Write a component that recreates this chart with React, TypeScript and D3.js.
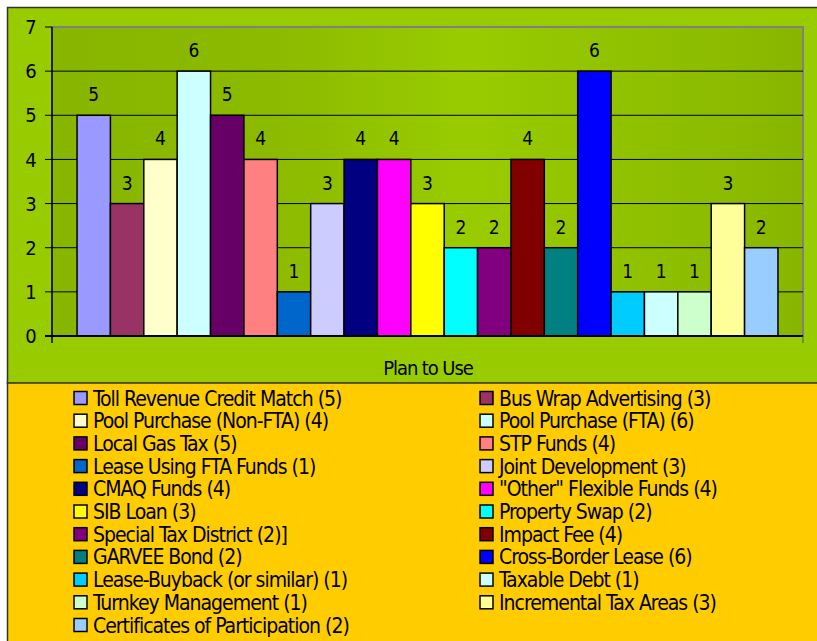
import React from 'react';
import * as d3 from 'd3';

const names = [
  'Toll Revenue Credit Match (5)', 'Bus Wrap Advertising (3)', 'Pool Purchase (Non-FTA) (4)',
  'Pool Purchase (FTA) (6)', 'Local Gas Tax (5)', 'STP Funds (4)', 'Lease Using FTA Funds (1)',
  'Joint Development (3)', 'CMAQ Funds (4)', '"Other" Flexible Funds (4)', 'SIB Loan (3)',
  'Property Swap (2)', 'Special Tax District (2)]', 'Impact Fee (4)', 'GARVEE Bond (2)',
  'Cross-Border Lease (6)', 'Lease-Buyback (or similar) (1)', 'Taxable Debt (1)',
  'Turnkey Management (1)', 'Incremental Tax Areas (3)', 'Certificates of Participation (2)',
];
const values = [5, 3, 4, 6, 5, 4, 1, 3, 4, 4, 3, 2, 2, 4, 2, 6, 1, 1, 1, 3, 2];
const colors = [
  '#9999ff', '#993366', '#ffffcc', '#ccffff', '#660066', '#ff8080', '#0066cc',
  '#ccccff', '#000080', '#ff00ff', '#ffff00', '#00ffff', '#800080', '#800000',
  '#008080', '#0000ff', '#00ccff', '#ccffff', '#ccffcc', '#ffff99', '#99ccff',
];
const yTicks = [0, 1, 2, 3, 4, 5, 6, 7];
const category = 'Plan to Use';

const font = "'DejaVu Sans Condensed', 'Open Sans', sans-serif";

export default function App() {
  const left = 52, right = 803, top = 27, bottom = 336;
  const x = d3.scaleBand<string>().domain(names).range([left, right]).paddingInner(0).paddingOuter(0.75);
  const y = d3.scaleLinear().domain([0, 7]).range([bottom, top]);

  const rowY = (i: number) => 398 + i * 22.7;

  return (
    <svg width={817} height={641} style={{ position: 'absolute', left: 0, top: 0 }} fontFamily={font}>
      <defs>
        <linearGradient id="plotbg" x1="0" x2="1" y1="0" y2="0">
          <stop offset="0" stopColor="#88b600" />
          <stop offset="0.3" stopColor="#8cba00" />
          <stop offset="0.55" stopColor="#99cc00" />
          <stop offset="1" stopColor="#88b600" />
        </linearGradient>
      </defs>
      <rect x={0} y={0} width={817} height={641} fill="#fff" />
      {/* chart area */}
      <rect x={7.5} y={7.5} width={820} height={376} fill="#99cc00" stroke="#333" strokeWidth={1.5} />
      {/* legend area */}
      <rect x={7.5} y={383} width={820} height={270} fill="#ffcc00" stroke="#333" strokeWidth={1.5} />

      <rect x={left} y={top} width={right - left} height={bottom - top} fill="url(#plotbg)" stroke="#808080" strokeWidth={2} />

      {yTicks.slice(1, 7).map(t => (
        <line key={t} x1={left} x2={right} y1={y(t)} y2={y(t)} stroke="#000" strokeWidth={1} />
      ))}

      {names.map((n, i) => (
        <rect key={n} x={x(n)} y={y(values[i])} width={x.bandwidth()} height={y(0) - y(values[i])}
          fill={colors[i]} stroke="#000" strokeWidth={1.5} />
      ))}

      {names.map((n, i) => (
        <text key={n} x={(x(n) as number) + x.bandwidth() / 2} y={y(values[i]) - 14} textAnchor="middle"
          fontSize={19} fill="#000">{values[i]}</text>
      ))}

      {/* axes */}
      <line x1={left} x2={left} y1={top} y2={bottom + 7} stroke="#000" strokeWidth={1.5} />
      <line x1={left - 7} x2={right} y1={bottom} y2={bottom} stroke="#000" strokeWidth={2} />
      <line x1={right} x2={right} y1={bottom} y2={bottom + 7} stroke="#555" strokeWidth={1} />
      {yTicks.map(t => (
        <g key={t}>
          <line x1={left - 7} x2={left} y1={y(t)} y2={y(t)} stroke="#000" strokeWidth={1} />
          <text x={31} y={y(t)} dy="0.36em" textAnchor="middle" fontSize={20} fill="#000">{t}</text>
        </g>
      ))}
      <text x={428} y={368} dy="0.36em" textAnchor="middle" fontSize={20} letterSpacing={-1.1} fill="#000">{category}</text>

      {/* legend */}
      {names.map((n, i) => {
        const col = i % 2;
        const row = Math.floor(i / 2);
        const mx = col === 0 ? 74 : 480;
        const cy = rowY(row);
        return (
          <g key={n}>
            <rect x={mx} y={cy - 6.5} width={13} height={13} fill={colors[i]} stroke="#000" strokeWidth={1.5} />
            <text x={mx + 19} y={cy} dy="0.36em" fontSize={21} letterSpacing={-1} fill="#000">{n}</text>
          </g>
        );
      })}
    </svg>
  );
}
